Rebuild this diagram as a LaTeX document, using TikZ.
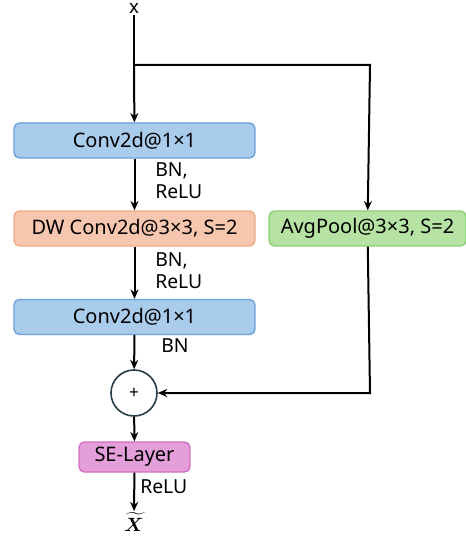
\documentclass[tikz,border=0pt]{standalone}
\usepackage{amsmath,amssymb,bm}
\usepackage{fontspec}
\setmainfont{Noto Sans}
\usetikzlibrary{arrows.meta}

\definecolor{convfill}{RGB}{169,203,236}
\definecolor{convline}{RGB}{106,160,220}
\definecolor{dwfill}{RGB}{247,198,174}
\definecolor{dwline}{RGB}{240,170,136}
\definecolor{poolfill}{RGB}{182,227,163}
\definecolor{poolline}{RGB}{140,208,120}
\definecolor{sefill}{RGB}{228,158,218}
\definecolor{seline}{RGB}{212,108,196}
\definecolor{addline}{RGB}{40,60,70}

\tikzset{
  blk/.style={draw, rounded corners=4pt, line width=1pt, inner sep=0pt, font=\fontsize{15}{18}\selectfont},
  convblk/.style={blk, fill=convfill, draw=convline, minimum width=241*0.75pt, minimum height=35*0.75pt},
  dwblk/.style={blk, fill=dwfill, draw=dwline, minimum width=241*0.75pt, minimum height=35*0.75pt},
  poolblk/.style={blk, fill=poolfill, draw=poolline, minimum width=197*0.75pt, minimum height=35*0.75pt},
  seblk/.style={blk, fill=sefill, draw=seline, minimum width=111*0.75pt, minimum height=30*0.75pt},
  lbl/.style={anchor=west, inner sep=0.75pt, align=left, font=\fontsize{14.5}{16.5}\selectfont},
  flow/.style={line width=1.5pt, -{Stealth[length=7pt,width=6pt]}},
  wire/.style={line width=1.5pt}
}

\begin{document}
\begin{tikzpicture}[x=0.75pt,y=0.75pt,yscale=-1,xscale=1]
\useasboundingbox (0,0) rectangle (466,538);

% Input
\node (in) at (134,9) [inner sep=0.75pt, font=\fontsize{14}{16}\selectfont] {x};
\coordinate (split) at (134,65);
\coordinate (turn) at (370,65);

% Main path blocks
\node (conva) at (134.5,140.5) [convblk] {Conv2d@1×1};
\node (dw) at (134.5,228.5) [dwblk] {DW Conv2d@3×3, S=2};
\node (convb) at (134.5,317) [convblk] {Conv2d@1×1};

% Shortcut block
\node (pool) at (367.5,228.5) [poolblk] {AvgPool@3×3, S=2};

% Addition
\node (add) at (134,393) [circle, draw=addline, line width=1.2pt, minimum size=46*0.75pt, inner sep=0pt, font=\fontsize{13}{14}\selectfont] {+};
\coordinate (back) at (370,393);

% SE layer
\node (se) at (134.5,457) [seblk] {SE-Layer};

% Output
\node (out) at (134,522) [inner sep=0.75pt, font=\fontsize{14}{16}\selectfont] {$\widetilde{\bm{X}}$};

% Connectors
\draw [wire] (in) -- (split);
\draw [flow] (split) -- (conva);
\draw [flow] (conva) -- (dw);
\draw [flow] (dw) -- (convb);
\draw [flow] (convb) -- (add);
\draw [flow] (add) -- (se);
\draw [flow] (se) -- (out);
\draw [flow] (split) -- (turn) -- (pool);
\draw [flow] (pool) -- (back) -- (add);

% Labels
\node (lbla) at (154,181) [lbl] {BN,\\ReLU};
\node (lblb) at (154,271) [lbl] {BN,\\ReLU};
\node (lblc) at (160,346) [lbl] {BN};
\node (lbld) at (139,487) [lbl] {ReLU};

\end{tikzpicture}
\end{document}
